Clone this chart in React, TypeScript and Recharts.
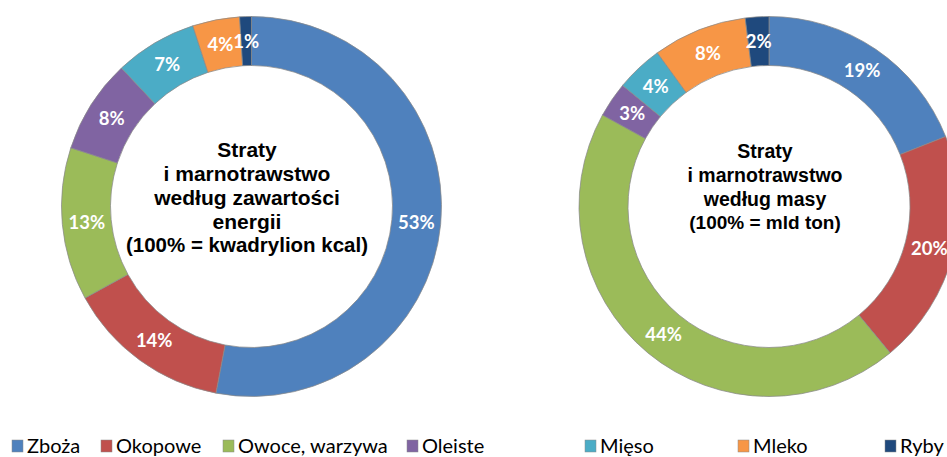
import { PieChart, Pie, Cell } from "recharts";

const categories = ["Zboża", "Okopowe", "Owoce, warzywa", "Oleiste", "Mięso", "Mleko", "Ryby"];
const colors = ["#4F81BD", "#C0504D", "#9BBB59", "#8064A2", "#4BACC6", "#F79646", "#1F497D"];
const energyShare = [53, 14, 13, 8, 7, 4, 1];
const massShare = [19, 20, 44, 3, 4, 8, 2];

const energyTitle = ["Straty", "i marnotrawstwo", "według zawartości", "energii"];
const energyNote = "(100% = kwadrylion kcal)";
const massTitle = ["Straty", "i marnotrawstwo", "według masy"];
const massNote = "(100% = mld ton)";

// legend x positions of the colour squares
const legendX = [12, 101, 223, 407, 585, 738, 885];

const RADIAN = Math.PI / 180;
const CY = 201.5;
const LEFT_CX = 246.5;
const RIGHT_CX = 764;

const toRows = (values: number[]) =>
  categories.map((name, i) => ({ name, value: values[i] }));

function sliceLabel(props: any) {
  const { cx, cy, midAngle, innerRadius, outerRadius, value } = props;
  const r = (innerRadius + outerRadius) / 2;
  const x = cx + r * Math.cos(-midAngle * RADIAN);
  const y = cy + r * Math.sin(-midAngle * RADIAN);
  return (
    <text
      x={x}
      y={y}
      fill="#fff"
      textAnchor="middle"
      dominantBaseline="central"
      fontFamily="Lato, sans-serif"
      fontWeight="bold"
      fontSize={18.5}
    >
      {value}%
    </text>
  );
}

function CenterText(props: { cx: number; top: number; size: number; lines: string[]; note: string }) {
  const { cx, top, size, lines, note } = props;
  return (
    <text
      textAnchor="middle"
      fontFamily="'Liberation Sans', Arial, sans-serif"
      fontWeight="bold"
      fill="#000"
    >
      {lines.map((l, i) => (
        <tspan key={i} x={cx} y={top + i * 24} fontSize={size}>
          {l}
        </tspan>
      ))}
      <tspan x={cx} y={top + lines.length * 24 - 1} fontSize={size - 0.5}>
        {note}
      </tspan>
    </text>
  );
}

export default function App() {
  return (
    <div style={{ position: "absolute", left: 0, top: 0, width: 947, height: 457, background: "#fff" }}>
      <PieChart width={947} height={457}>
        <Pie
          data={toRows(energyShare)}
          dataKey="value"
          cx={LEFT_CX}
          cy={CY}
          innerRadius={141}
          outerRadius={190}
          startAngle={90}
          endAngle={-270}
          stroke="#8a8a8a"
          strokeWidth={0.75}
          label={sliceLabel}
          labelLine={false}
          isAnimationActive={false}
        >
          {energyShare.map((_, i) => (
            <Cell key={i} fill={colors[i]} />
          ))}
        </Pie>
        <Pie
          data={toRows(massShare)}
          dataKey="value"
          cx={RIGHT_CX}
          cy={CY}
          innerRadius={141}
          outerRadius={190}
          startAngle={90}
          endAngle={-270}
          stroke="#8a8a8a"
          strokeWidth={0.75}
          label={sliceLabel}
          labelLine={false}
          isAnimationActive={false}
        >
          {massShare.map((_, i) => (
            <Cell key={i} fill={colors[i]} />
          ))}
        </Pie>
        <CenterText cx={247} top={157} size={21} lines={energyTitle} note={energyNote} />
        <CenterText cx={765} top={158} size={19.5} lines={massTitle} note={massNote} />
        <g>
          {categories.map((c, i) => (
            <g key={c}>
              <rect x={legendX[i]} y={440} width={11} height={12} fill={colors[i]} stroke="#8a8a8a" strokeWidth={0.5} />
              <text x={legendX[i] + 15} y={453} fontFamily="Lato, sans-serif" fontSize={20} fill="#000">
                {c}
              </text>
            </g>
          ))}
        </g>
      </PieChart>
    </div>
  );
}
